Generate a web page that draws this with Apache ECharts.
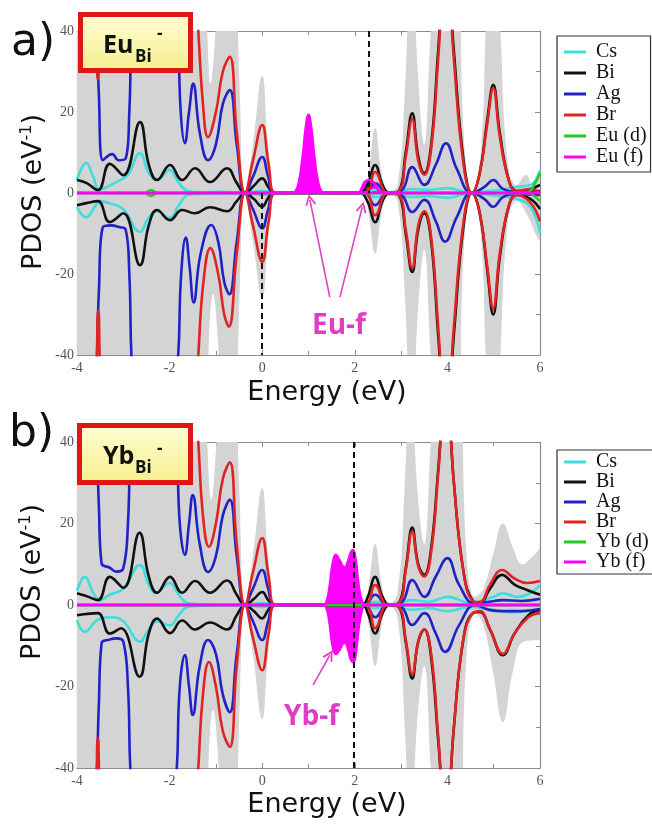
<!DOCTYPE html>
<html><head><meta charset="utf-8">
<script src="https://cdn.jsdelivr.net/npm/echarts@6/dist/echarts.min.js"></script>
<style>html,body{margin:0;padding:0;background:#fff}#c{width:652px;height:825px}</style>
</head><body><div id="c"></div><script>
// ---------- Panel a) Eu_Bi- : [energy (eV), PDOS] ----------
const euTotUp = [[-4,70],[-1.25,62],[-1.18,38],[-1.12,27],[-1.02,38],[-0.92,62],[-0.62,62],[-0.5,30],[-0.37,0],[-0.2,12],[0,29],[0.13,12],[0.3,0],[2.2,0],[2.3,5],[2.44,16],[2.58,5],[2.72,0],[2.92,2],[3.08,25],[3.22,62],[3.36,30],[3.5,12],[3.64,40],[3.78,62],[4.2,62],[4.35,15],[4.53,0],[4.72,10],[4.85,45],[4.99,62],[5.12,45],[5.3,8],[5.5,2],[5.7,4.5],[5.85,1.5],[6,4]];
const euTotDn = [[-4,-70],[-1.22,-62],[-1.15,-36],[-1.06,-25],[-0.96,-36],[-0.86,-62],[-0.6,-62],[-0.5,-30],[-0.37,0],[-0.2,-12],[0,-26],[0.13,-12],[0.3,0],[2.2,0],[2.3,-5],[2.44,-15],[2.58,-5],[2.72,0],[2.92,-2],[3.08,-25],[3.22,-62],[3.36,-30],[3.5,-14],[3.64,-40],[3.78,-62],[4.2,-62],[4.35,-15],[4.53,0],[4.72,-10],[4.85,-45],[4.99,-62],[5.12,-45],[5.3,-8],[5.5,-2],[5.75,-6],[5.9,-10],[6,-12]];
const euCsUp = [[-4,3.2],[-3.8,7.4],[-3.65,4],[-3.52,0.8],[-3.35,1.5],[-3.1,3],[-2.9,4.5],[-2.64,9.8],[-2.45,5],[-2.27,3.2],[-2.0,5.7],[-1.8,2.5],[-1.6,0.5],[-1.3,0.2],[-0.9,0.3],[-0.37,0],[0,0.5],[0.3,0],[2.2,0],[2.44,0.8],[2.8,0.2],[3.24,1],[3.6,0.8],[4.0,1.2],[4.5,0.1],[5.0,0.6],[5.5,1.5],[5.8,2],[6,5.5]];
const euCsDn = [[-4,-3.4],[-3.8,-6],[-3.62,-3.5],[-3.5,-2],[-3.3,-2.5],[-3.0,-4],[-2.64,-9.6],[-2.45,-6],[-2.27,-4.5],[-2.0,-6.2],[-1.8,-3],[-1.6,-0.5],[-1.3,-0.2],[-0.37,0],[0,-0.5],[0.3,0],[2.2,0],[2.44,-1],[2.8,-0.3],[3.24,-1],[3.6,-0.8],[4.0,-1.2],[4.5,-0.1],[5.0,-0.6],[5.5,-1.5],[5.8,-3.5],[6,-10]];
const euBiUp = [[-4,3.2],[-3.8,2.5],[-3.55,0.7],[-3.29,7.2],[-3.0,4.4],[-2.64,17.5],[-2.45,7],[-2.27,3.2],[-1.99,6.9],[-1.73,3.2],[-1.45,6.1],[-1.13,2.7],[-0.76,6.1],[-0.55,2.5],[-0.37,0],[-0.18,1.8],[0,3.6],[0.13,1.5],[0.25,0],[2.1,0],[2.27,2],[2.44,6.9],[2.6,2],[2.75,0],[2.95,0.5],[3.1,10],[3.24,19.7],[3.37,9],[3.5,4.9],[3.65,12],[3.8,35],[3.97,60],[4.14,35],[4.35,8],[4.53,0],[4.7,5],[4.86,18],[4.99,26.7],[5.13,15],[5.33,3],[5.5,0.5],[5.8,1],[6,2]];
const euBiDn = [[-4,-3],[-3.8,-2.5],[-3.55,-2],[-3.29,-7.2],[-3.0,-5],[-2.64,-17.8],[-2.45,-8],[-2.27,-4.2],[-1.99,-6.7],[-1.73,-4.2],[-1.45,-5],[-1.13,-3.5],[-0.76,-4.5],[-0.55,-2],[-0.37,0],[-0.18,-1.5],[0,-3.4],[0.13,-1.2],[0.25,0],[2.1,0],[2.27,-2],[2.44,-7.2],[2.6,-2],[2.75,0],[2.95,-0.5],[3.1,-10],[3.24,-19.5],[3.37,-9],[3.5,-5],[3.65,-12],[3.8,-35],[3.97,-60],[4.14,-35],[4.35,-8],[4.53,0],[4.7,-5],[4.86,-19],[4.99,-30],[5.13,-16],[5.33,-3],[5.5,-0.5],[5.8,-1.5],[6,-4]];
const euAgUp = [[-4,60],[-3.62,50],[-3.53,25],[-3.44,8.1],[-3.24,9.6],[-3.1,8.1],[-2.95,8.5],[-2.87,20],[-2.8,45],[-2.3,70],[-1.85,45],[-1.76,20],[-1.67,12.3],[-1.58,20],[-1.49,27],[-1.35,15],[-1.17,8.1],[-1.0,12],[-0.85,22],[-0.7,25.4],[-0.55,12],[-0.37,0],[-0.2,4],[0,8.9],[0.13,4],[0.27,0],[2.2,0],[2.44,2.4],[2.7,0],[3.0,0.5],[3.24,6.4],[3.5,2],[3.75,7],[3.97,12.3],[4.2,6],[4.53,0],[4.8,1.5],[4.99,3.2],[5.2,1],[5.5,0.3],[6,0.5]];
const euAgDn = [[-4,-60],[-3.62,-50],[-3.53,-25],[-3.44,-8.4],[-3.25,-8],[-3.1,-8.4],[-2.95,-9],[-2.87,-20],[-2.8,-45],[-2.3,-70],[-1.85,-45],[-1.75,-20],[-1.65,-11],[-1.57,-18],[-1.48,-27],[-1.33,-15],[-1.1,-7.9],[-0.95,-12],[-0.82,-22],[-0.71,-25],[-0.55,-12],[-0.37,0],[-0.2,-4],[0,-8.7],[0.13,-4],[0.27,0],[2.2,0],[2.44,-3],[2.7,0],[3.0,-0.5],[3.24,-4.7],[3.5,-1.7],[3.75,-7],[3.95,-12],[4.2,-6],[4.53,0],[4.8,-1.5],[4.99,-3.4],[5.2,-1],[5.5,-0.3],[6,-0.5]];
const euBrUp = [[-4,60],[-3.62,50],[-3.55,28],[-3.48,50],[-2.5,70],[-1.5,62],[-1.38,40],[-1.28,22],[-1.17,13.8],[-1.0,20],[-0.85,30],[-0.7,33.6],[-0.55,15],[-0.37,0],[-0.2,8],[0,16.8],[0.14,7],[0.3,0],[2.2,0],[2.44,5.2],[2.7,0],[2.95,0.5],[3.1,9],[3.24,18.2],[3.37,8],[3.5,4.5],[3.65,11],[3.8,33],[3.97,60],[4.14,33],[4.35,7],[4.53,0],[4.7,5],[4.86,17],[4.99,25.9],[5.13,14],[5.33,3],[5.5,0.5],[5.8,1],[6,0]];
const euBrDn = [[-4,-60],[-3.62,-50],[-3.54,-29],[-3.47,-50],[-2.5,-70],[-1.5,-62],[-1.38,-40],[-1.27,-22],[-1.12,-13.6],[-0.95,-20],[-0.82,-30],[-0.72,-33],[-0.55,-15],[-0.37,0],[-0.2,-8],[0,-17],[0.14,-7],[0.3,0],[2.2,0],[2.44,-5.5],[2.7,0],[2.95,-0.5],[3.1,-9],[3.24,-18.5],[3.37,-8],[3.5,-4.5],[3.65,-11],[3.8,-33],[3.97,-60],[4.14,-33],[4.35,-7],[4.53,0],[4.7,-5],[4.86,-18],[4.99,-28.5],[5.13,-15],[5.33,-3],[5.5,-0.5],[5.8,-2.5],[6,-7]];
const euDUp = [[-4,0],[-2.55,0],[-2.4,0.7],[-2.25,0],[5.7,0],[5.85,1.5],[6,5]];
const euDDn = [[-4,0],[-2.55,0],[-2.4,-0.7],[-2.25,0],[5.75,0],[5.9,-1],[6,-2]];
const euFUp = [[-4,0],[0.62,0],[0.72,0.4],[0.8,3],[0.88,9.5],[0.94,16],[1.0,19.3],[1.06,16],[1.12,9.5],[1.2,3],[1.28,0.4],[1.38,0],[2.08,0],[2.15,1.2],[2.22,2.8],[2.32,3.2],[2.42,2.5],[2.52,0.6],[2.62,0],[6,0]];
const euFDn = [[-4,0],[6,0]];

// ---------- Panel b) Yb_Bi- ----------
const ybTotUp = [[-4,70],[-1.25,62],[-1.18,38],[-1.1,25.8],[-1.0,38],[-0.9,62],[-0.62,62],[-0.5,30],[-0.37,0],[-0.2,12],[0,28.7],[0.13,12],[0.3,0],[2.2,0],[2.3,5],[2.44,15],[2.58,5],[2.72,0],[2.92,3],[3.08,30],[3.2,62],[3.34,30],[3.5,15],[3.64,40],[3.75,62],[4.25,62],[4.4,15],[4.6,2],[4.78,4],[5.0,13],[5.2,20],[5.42,14],[5.62,10],[5.85,12],[6,14]];
const ybTotDn = [[-4,-70],[-1.22,-62],[-1.15,-36],[-1.06,-25.8],[-0.96,-36],[-0.86,-62],[-0.6,-62],[-0.5,-30],[-0.37,0],[-0.2,-12],[0,-28],[0.13,-12],[0.3,0],[2.2,0],[2.3,-5],[2.44,-15],[2.58,-5],[2.72,0],[2.92,-3],[3.08,-30],[3.2,-62],[3.34,-30],[3.5,-15],[3.64,-40],[3.75,-62],[4.25,-62],[4.4,-15],[4.6,-2],[4.78,-5],[4.98,-16],[5.2,-28.7],[5.42,-16],[5.65,-9],[6,-8.6]];
const ybCsUp = [[-4,3.5],[-3.83,6.9],[-3.65,3],[-3.5,1.2],[-3.3,2.5],[-3.0,4],[-2.64,9.8],[-2.45,5],[-2.3,2.9],[-2.0,5.4],[-1.8,2.5],[-1.6,0.4],[-1.3,0.2],[-0.37,0],[0,0.5],[0.3,0],[2.2,0],[2.44,0.8],[2.8,0.2],[3.24,1.2],[3.6,0.8],[4.0,2],[4.5,0.5],[5.0,2],[5.2,2.9],[5.5,2],[5.8,3],[6,4.9]];
const ybCsDn = [[-4,-3.7],[-3.83,-6.6],[-3.6,-4],[-3.5,-3.4],[-3.3,-3],[-3.0,-4],[-2.64,-9],[-2.45,-6],[-2.27,-4],[-2.0,-5],[-1.8,-2.5],[-1.6,-0.4],[-1.3,-0.2],[-0.37,0],[0,-0.5],[0.3,0],[2.2,0],[2.44,-0.8],[2.8,-0.2],[3.24,-1.2],[3.6,-0.8],[4.0,-1.5],[4.5,-0.5],[5.0,-1.2],[5.4,-1.8],[5.8,-1.5],[6,-1.5]];
const ybBiUp = [[-4,2.9],[-3.8,2.2],[-3.55,1.2],[-3.29,6.9],[-3.0,4.2],[-2.65,17.7],[-2.45,7],[-2.27,3],[-1.99,6.9],[-1.73,3],[-1.45,5.9],[-1.13,3],[-0.76,6],[-0.55,2.5],[-0.37,0],[-0.18,1.5],[0,3.2],[0.13,1.2],[0.25,0],[2.15,0],[2.28,2],[2.44,6.9],[2.6,2],[2.75,0],[2.95,0.5],[3.1,9],[3.24,19],[3.37,10],[3.5,7.4],[3.65,14],[3.8,33],[3.97,55],[4.14,30],[4.35,8],[4.55,1],[4.7,0.5],[4.92,4],[5.18,7.4],[5.45,5],[5.72,3.7],[6,2.5]];
const ybBiDn = [[-4,-2.5],[-3.8,-2.2],[-3.55,-2],[-3.29,-7],[-3.05,-5.7],[-2.65,-17.6],[-2.45,-7],[-2.27,-3.3],[-1.99,-6.9],[-1.73,-3.8],[-1.45,-6],[-1.13,-4.3],[-0.76,-6],[-0.55,-2.5],[-0.37,0],[-0.18,-1.5],[0,-3.3],[0.13,-1.2],[0.25,0],[2.15,0],[2.28,-2],[2.44,-7],[2.6,-2],[2.75,0],[2.95,-0.5],[3.1,-9],[3.24,-18],[3.37,-9],[3.5,-6],[3.65,-13],[3.8,-33],[3.97,-55],[4.14,-30],[4.35,-8],[4.55,-2],[4.7,-1.7],[4.92,-6],[5.2,-12.3],[5.45,-7],[5.75,-2.5],[6,-1.2]];
const ybAgUp = [[-4,60],[-3.62,50],[-3.53,25],[-3.47,10.2],[-3.3,9.2],[-3.15,8.2],[-3.0,9],[-2.9,20],[-2.82,45],[-2.3,70],[-1.88,45],[-1.78,20],[-1.67,12.3],[-1.58,20],[-1.5,27],[-1.35,15],[-1.17,8.1],[-1.0,12],[-0.85,22],[-0.7,25.8],[-0.55,12],[-0.37,0],[-0.2,4],[0,8.6],[0.13,4],[0.27,0],[2.2,0],[2.44,2.5],[2.7,0],[3.0,0.5],[3.24,6.1],[3.5,2],[3.75,7],[4.0,11.5],[4.25,5],[4.6,0.3],[4.9,0.8],[5.2,1.2],[5.6,1],[6,1.5]];
const ybAgDn = [[-4,-60],[-3.62,-50],[-3.53,-25],[-3.47,-9.4],[-3.3,-8.5],[-3.15,-8.2],[-3.0,-9],[-2.9,-20],[-2.82,-45],[-2.3,-70],[-1.88,-45],[-1.78,-20],[-1.67,-12.3],[-1.58,-20],[-1.5,-27],[-1.35,-15],[-1.17,-8.6],[-1.0,-12],[-0.85,-22],[-0.7,-26.3],[-0.55,-12],[-0.37,0],[-0.2,-4],[0,-8.6],[0.13,-4],[0.27,0],[2.2,0],[2.44,-3],[2.7,0],[3.0,-0.5],[3.24,-4.9],[3.5,-2],[3.75,-7],[3.95,-11.5],[4.25,-5],[4.6,0],[4.9,-1.2],[5.2,-1.5],[5.6,-1.5],[6,-1]];
const ybBrUp = [[-4,60],[-3.62,50],[-3.55,30],[-3.48,50],[-2.5,70],[-1.5,62],[-1.38,40],[-1.28,22],[-1.15,14.3],[-1.0,20],[-0.85,31],[-0.7,35],[-0.55,15],[-0.37,0],[-0.2,8],[0,16.4],[0.14,7],[0.3,0],[2.2,0],[2.44,4.9],[2.7,0],[2.95,0.5],[3.1,8.5],[3.24,18],[3.37,9.5],[3.5,7],[3.65,13],[3.8,32],[3.97,55],[4.14,30],[4.35,8],[4.55,1],[4.7,0.7],[4.92,5],[5.18,8.6],[5.45,6.5],[5.72,5.4],[6,5.9]];
const ybBrDn = [[-4,-60],[-3.62,-50],[-3.55,-32.6],[-3.48,-50],[-2.5,-70],[-1.5,-62],[-1.38,-40],[-1.28,-22],[-1.15,-14],[-1.0,-20],[-0.85,-31],[-0.7,-34.8],[-0.55,-15],[-0.37,0],[-0.2,-8],[0,-16],[0.14,-7],[0.3,0],[2.2,0],[2.44,-5.7],[2.7,0],[2.95,-0.5],[3.1,-8.5],[3.24,-17],[3.37,-9],[3.5,-6],[3.65,-12],[3.8,-32],[3.97,-55],[4.14,-30],[4.35,-8],[4.55,-2],[4.7,-1.5],[4.92,-6],[5.2,-12],[5.45,-7],[5.75,-3],[6,-2]];
const ybDUp = [[-4,0],[6,0]];
const ybDDn = [[-4,0],[6,0]];
const ybFUp = [[-4,0],[1.3,0],[1.38,0.5],[1.45,4],[1.52,10],[1.59,12.3],[1.67,11],[1.74,9.5],[1.79,9.3],[1.86,11],[1.92,13],[1.96,13.5],[2.02,11],[2.08,5],[2.15,1],[2.22,0],[6,0]];
const ybFDn = [[-4,0],[1.3,0],[1.38,-0.5],[1.45,-4],[1.52,-10],[1.59,-12],[1.67,-11],[1.74,-9.5],[1.79,-9.3],[1.86,-11],[1.92,-13.5],[1.97,-14],[2.03,-11],[2.09,-5],[2.16,-1],[2.22,0],[6,0]];

// annotations: dashed band-edge lines [x, yFrom, yTo], arrows [x0,y0,x1,y1]
const dashA = [[0,0,-40],[2.31,40,0]];
const dashB = [[1.97,40,-40]];
const arrowsA = [[1.46,-25.7,1.03,-1.7],[1.68,-25.7,2.16,-3.5]];
const arrowsB = [[1.10,-19.6,1.46,-12.3]];

const legendA = ['Cs','Bi','Ag','Br','Eu (d)','Eu (f)'];
const legendB = ['Cs','Bi','Ag','Br','Yb (d)','Yb (f)'];
const xTicks = {min:-4, max:6, interval:2};
const yTicks = {min:-40, max:40, interval:20};

const C = {Cs:'#3fdede', Bi:'#111111', Ag:'#2121c8', Br:'#e02424', d:'#22cc22', f:'#ff00ff', tot:'#d4d4d4'};
const CHEV = 'path://M5,0L10,10L8.6,11L5,3.6L1.4,11L0,10Z';

function ln(name, data, color, g, extra) {
  return Object.assign({
    type:'line', name:name, data:data, xAxisIndex:g*2, yAxisIndex:g*2,
    showSymbol:false, symbol:'none', smooth:0.45,
    animation:false, silent:true,
    lineStyle:{color:color, width:2.6}, itemStyle:{color:color}
  }, extra || {});
}
function area(data, g) {
  return ln('Total', data, C.tot, g, {lineStyle:{width:0, color:C.tot}, areaStyle:{color:C.tot, opacity:1}});
}
function dashML(list) {
  return {silent:true, animation:false, symbol:['none','none'], label:{show:false},
    lineStyle:{color:'#111', width:2, type:[6,4]},
    data:list.map(d => [{coord:[d[0],d[1]]},{coord:[d[0],d[2]]}])};
}
function arrowML(list) {
  return {silent:true, animation:false, symbol:['none', CHEV], symbolSize:11, label:{show:false},
    lineStyle:{color:'#e040c4', width:1.6, type:'solid'},
    data:list.map(a => [{coord:[a[0],a[1]]},{coord:[a[2],a[3]]}])};
}
function panel(g, s, dLab, fLab, dash, arrows) {
  return [
    area(s.totUp, g), area(s.totDn, g),
    ln('Cs', s.csUp, C.Cs, g), ln('Cs', s.csDn, C.Cs, g),
    ln('Bi', s.biUp, C.Bi, g), ln('Bi', s.biDn, C.Bi, g),
    ln('Ag', s.agUp, C.Ag, g), ln('Ag', s.agDn, C.Ag, g),
    ln('Br', s.brUp, C.Br, g), ln('Br', s.brDn, C.Br, g),
    ln(dLab, s.dUp, C.d, g), ln(dLab, s.dDn, C.d, g),
    ln(fLab, s.fUp, C.f, g, {areaStyle:{color:C.f, opacity:1}, markLine:dashML(dash)}),
    ln(fLab, s.fDn, C.f, g, {areaStyle:{color:C.f, opacity:1}, markLine:arrowML(arrows)})
  ];
}

const axisCol = '#8c8c8c';
function xAx(g, pos, showLab) {
  return Object.assign({gridIndex:g, type:'value', position:pos,
    axisLine:{show:true, onZero:false, lineStyle:{color:axisCol, width:1.2}},
    axisTick:{show:true, inside:true, length:5, lineStyle:{color:axisCol}},
    minorTick:{show:true, splitNumber:2, length:4, lineStyle:{color:axisCol}},
    axisLabel:{show:showLab, margin:6, fontFamily:'Liberation Serif', fontSize:14, color:'#555'},
    splitLine:{show:false}, minorSplitLine:{show:false}}, xTicks);
}
function yAx(g, pos, showLab) {
  return Object.assign({gridIndex:g, type:'value', position:pos,
    axisLine:{show:true, onZero:false, lineStyle:{color:axisCol, width:1.2}},
    axisTick:{show:true, inside:true, length:5, lineStyle:{color:axisCol}},
    minorTick:{show:true, splitNumber:2, length:4, lineStyle:{color:axisCol}},
    axisLabel:{show:showLab, margin:3, fontFamily:'Liberation Serif', fontSize:14, color:'#555'},
    splitLine:{show:false}, minorSplitLine:{show:false}}, yTicks);
}
function legend(names, top, gap, pad) {
  return {data:names, orient:'vertical', left:557, top:top, itemGap:gap, padding:pad,
    icon:'rect', itemWidth:22, itemHeight:3, selectedMode:false,
    borderColor:'#333', borderWidth:1.2, backgroundColor:'#fff',
    textStyle:{fontFamily:'Liberation Serif', fontSize:20, color:'#111', padding:[0,0,0,5]}};
}
function txt(x, y, text, font, fill, extra) {
  return Object.assign({type:'text', x:x, y:y, z:100,
    style:{text:text, font:font, fill:fill, align:'left', verticalAlign:'middle', textAlign:'left', textVerticalAlign:'middle'}}, extra || {});
}
function tag(x0, y0, w, h, main, sub, yMain, ySub, ySup) {
  return [
    {type:'rect', z:99, shape:{x:x0, y:y0, width:w, height:h},
      style:{fill:new echarts.graphic.LinearGradient(0,0,0,1,[{offset:0,color:'#ffffd6'},{offset:1,color:'#f6ee8c'}]), stroke:'#dd1616', lineWidth:5}},
    txt(103, yMain, main, 'bold 25px "Open Sans"', '#111'),
    txt(135, ySub, sub, 'bold 17px "Open Sans"', '#111'),
    txt(157, ySup, '-', 'bold 17px "Open Sans"', '#111')
  ];
}
function ylab(x, y) {
  return {type:'text', x:x, y:y, rotation:Math.PI/2, z:100,
    style:{text:'{a|PDOS (eV}{b|-1}{a|)}', align:'center', verticalAlign:'middle', textAlign:'center', textVerticalAlign:'middle',
      rich:{a:{fontSize:27, fontFamily:'DejaVu Sans', fill:'#111', lineHeight:30},
            b:{fontSize:16, fontFamily:'DejaVu Sans', fill:'#111', lineHeight:14, verticalAlign:'top'}}}};
}
function xlab(x, y) {
  return {type:'text', x:x, y:y, z:100,
    style:{text:'Energy (eV)', font:'27px "DejaVu Sans"', fill:'#111', align:'center', verticalAlign:'middle', textAlign:'center', textVerticalAlign:'middle'}};
}

const chart = echarts.init(document.getElementById('c'), null, {renderer:'canvas'});
const sA = {totUp:euTotUp, totDn:euTotDn, csUp:euCsUp, csDn:euCsDn, biUp:euBiUp, biDn:euBiDn, agUp:euAgUp, agDn:euAgDn, brUp:euBrUp, brDn:euBrDn, dUp:euDUp, dDn:euDDn, fUp:euFUp, fDn:euFDn};
const sB = {totUp:ybTotUp, totDn:ybTotDn, csUp:ybCsUp, csDn:ybCsDn, biUp:ybBiUp, biDn:ybBiDn, agUp:ybAgUp, agDn:ybAgDn, brUp:ybBrUp, brDn:ybBrDn, dUp:ybDUp, dDn:ybDDn, fUp:ybFUp, fDn:ybFDn};

chart.setOption({
  animation:false,
  backgroundColor:'#fff',
  grid:[{left:77, top:31, width:463, height:324, show:false},
        {left:77, top:442, width:463, height:326, show:false}],
  xAxis:[xAx(0,'bottom',true), xAx(0,'top',false), xAx(1,'bottom',true), xAx(1,'top',false)],
  yAxis:[yAx(0,'left',true), yAx(0,'right',false), yAx(1,'left',true), yAx(1,'right',false)],
  legend:[legend(legendA, 36, 1, [6,4,5,7]), legend(legendB, 450, 0, [2,4,2,7])],
  series:[].concat(panel(0, sA, 'Eu (d)', 'Eu (f)', dashA, arrowsA), panel(1, sB, 'Yb (d)', 'Yb (f)', dashB, arrowsB)),
  graphic:[].concat(
    [txt(11, 44, 'a)', '44px "DejaVu Sans"', '#111'), txt(9, 435, 'b)', '44px "DejaVu Sans"', '#111')],
    tag(80.5, 14.5, 110, 56, 'Eu', 'Bi', 46, 57, 34),
    tag(79.5, 425.5, 111, 57, 'Yb', 'Bi', 457, 468, 449),
    [ylab(34, 192), ylab(33, 582), xlab(327, 393), xlab(327, 805),
     txt(312, 326, 'Eu-f', 'bold 28px "Open Sans"', '#e03cc4'),
     txt(284, 717, 'Yb-f', 'bold 28px "Open Sans"', '#e03cc4')]
  )
});
</script></body></html>
